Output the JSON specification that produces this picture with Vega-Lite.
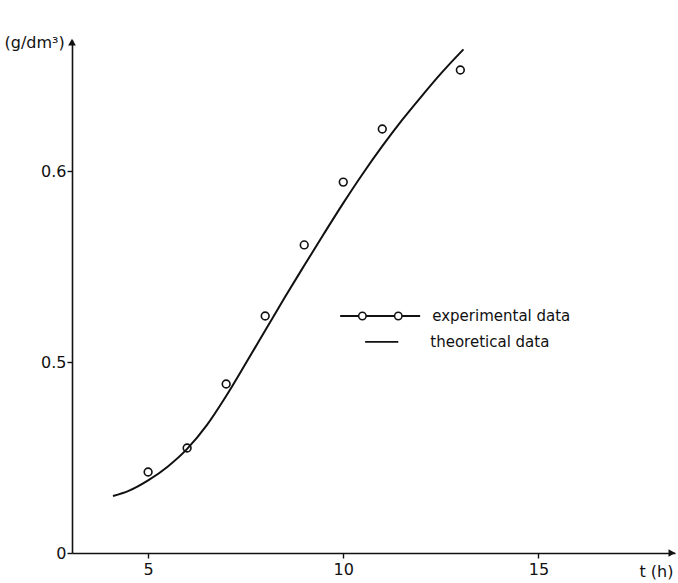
{
  "$schema": "https://vega.github.io/schema/vega-lite/v6.json",
  "width": 603,
  "height": 513,
  "autosize": "none",
  "padding": {"left": 72, "top": 40, "right": 3, "bottom": 30},
  "background": "white",
  "config": {
    "view": {"stroke": null},
    "font": "DejaVu Sans",
    "axis": {
      "grid": false,
      "domainColor": "#111",
      "domainWidth": 1.6,
      "tickColor": "#111",
      "tickWidth": 1.4,
      "tickSize": 5,
      "labelColor": "#111",
      "labelFont": "DejaVu Sans",
      "labelFontSize": 16,
      "titleColor": "#111",
      "titleFont": "DejaVu Sans",
      "titleFontSize": 16,
      "titleFontWeight": "normal"
    }
  },
  "datasets": {
    "theory": [
      {"t": 4.1, "v": 0.4298},
      {"t": 4.5, "v": 0.4325},
      {"t": 5, "v": 0.438},
      {"t": 5.5, "v": 0.4452},
      {"t": 6, "v": 0.4545},
      {"t": 6.5, "v": 0.4668},
      {"t": 7, "v": 0.4822},
      {"t": 7.5, "v": 0.4992},
      {"t": 8, "v": 0.5165},
      {"t": 8.5, "v": 0.5338},
      {"t": 9, "v": 0.5505},
      {"t": 9.5, "v": 0.567},
      {"t": 10, "v": 0.5832},
      {"t": 10.5, "v": 0.5986},
      {"t": 11, "v": 0.613},
      {"t": 11.5, "v": 0.6265},
      {"t": 12, "v": 0.639},
      {"t": 12.5, "v": 0.651},
      {"t": 13, "v": 0.662},
      {"t": 13.08, "v": 0.6637}
    ],
    "experiment": [
      {"t": 5, "v": 0.4424},
      {"t": 6, "v": 0.455},
      {"t": 7, "v": 0.4885},
      {"t": 8, "v": 0.5241},
      {"t": 9, "v": 0.5613},
      {"t": 10, "v": 0.5942},
      {"t": 11, "v": 0.622},
      {"t": 13, "v": 0.6529}
    ],
    "legend_lines": [
      {"series": "experimental data", "t": 9.92, "t2": 11.97, "v": 0.5241},
      {"series": "theoretical data", "t": 10.56, "t2": 11.41, "v": 0.5105}
    ],
    "legend_circles": [
      {"t": 10.49, "v": 0.5241},
      {"t": 11.41, "v": 0.5241}
    ],
    "legend_text": [
      {"label": "experimental data", "t": 12.28, "v": 0.5241},
      {"label": "theoretical data", "t": 12.23, "v": 0.5105}
    ],
    "arrows": [
      {"t": 18.42, "v": 0.4, "dir": "triangle-right"},
      {"t": 3.05, "v": 0.6675, "dir": "triangle-up"}
    ]
  },
  "layer": [
    {
      "data": {"name": "theory"},
      "mark": {"type": "line", "interpolate": "monotone", "color": "#111", "strokeWidth": 2},
      "encoding": {
        "x": {
          "field": "t",
          "type": "quantitative",
          "title": "t (h)",
          "scale": {"domain": [3.05, 18.5], "nice": false, "zero": false},
          "axis": {
            "values": [5, 10, 15],
            "title": "t (h)",
            "titleAngle": 0,
            "titleAlign": "left",
            "titleBaseline": "top",
            "titleX": 567,
            "titleY": 10,
            "labelPadding": 3
          }
        },
        "y": {
          "field": "v",
          "type": "quantitative",
          "title": "(g/dm³)",
          "scale": {"domain": [0.4, 0.6686], "nice": false, "zero": false},
          "axis": {
            "values": [0.4, 0.5, 0.6],
            "labelExpr": "datum.value < 0.45 ? '0' : format(datum.value, '.1f')",
            "labelPadding": 1,
            "title": "(g/dm³)",
            "titleAngle": 0,
            "titleAlign": "left",
            "titleBaseline": "middle",
            "titleX": -68,
            "titleY": 2
          }
        }
      }
    },
    {
      "data": {"name": "experiment"},
      "mark": {"type": "point", "shape": "circle", "filled": false, "color": "#111", "strokeWidth": 1.6, "size": 60, "opacity": 1},
      "encoding": {
        "x": {"field": "t", "type": "quantitative", "title": "t (h)"},
        "y": {"field": "v", "type": "quantitative", "title": "(g/dm³)"}
      }
    },
    {
      "data": {"name": "legend_lines"},
      "mark": {"type": "rule", "color": "#111", "strokeWidth": 1.8},
      "encoding": {
        "x": {"field": "t", "type": "quantitative", "title": "t (h)"},
        "x2": {"field": "t2"},
        "y": {"field": "v", "type": "quantitative", "title": "(g/dm³)"}
      }
    },
    {
      "data": {"name": "legend_circles"},
      "mark": {"type": "point", "shape": "circle", "filled": true, "fill": "white", "stroke": "#111", "strokeWidth": 1.5, "size": 55, "opacity": 1},
      "encoding": {
        "x": {"field": "t", "type": "quantitative", "title": "t (h)"},
        "y": {"field": "v", "type": "quantitative", "title": "(g/dm³)"}
      }
    },
    {
      "data": {"name": "legend_text"},
      "mark": {"type": "text", "align": "left", "baseline": "middle", "fontSize": 15, "color": "#111", "font": "DejaVu Sans"},
      "encoding": {
        "x": {"field": "t", "type": "quantitative", "title": "t (h)"},
        "y": {"field": "v", "type": "quantitative", "title": "(g/dm³)"},
        "text": {"field": "label"}
      }
    },
    {
      "data": {"name": "arrows"},
      "mark": {"type": "point", "filled": true, "color": "#111", "size": 60, "opacity": 1, "clip": false},
      "encoding": {
        "x": {"field": "t", "type": "quantitative", "title": "t (h)"},
        "y": {"field": "v", "type": "quantitative", "title": "(g/dm³)"},
        "shape": {"field": "dir", "type": "nominal", "scale": null, "legend": null}
      }
    }
  ]
}
